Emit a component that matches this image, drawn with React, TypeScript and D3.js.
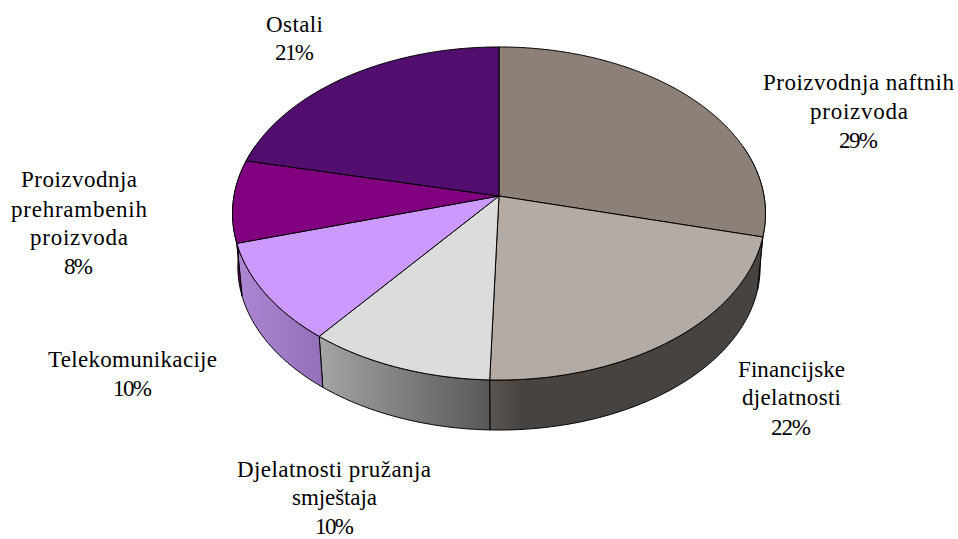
import React from "react";
import * as d3 from "d3";

const categories = ["Proizvodnja naftnih proizvoda", "Financijske djelatnosti", "Djelatnosti pružanja smještaja", "Telekomunikacije", "Proizvodnja prehrambenih proizvoda", "Ostali"];
const shares = [28.9, 21.6, 10.2, 9.8, 8.0, 21.5];
const percentLabels = ["29%", "22%", "10%", "10%", "8%", "21%"];
const labelLines = [
  ["Proizvodnja naftnih", "proizvoda"],
  ["Financijske", "djelatnosti"],
  ["Djelatnosti pružanja", "smještaja"],
  ["Telekomunikacije"],
  ["Proizvodnja", "prehrambenih", "proizvoda"],
  ["Ostali"],
];
const topColors = ["#8C8079", "#B4ABA5", "#DCDCDC", "#CC99FF", "#800080", "#520E6E"];
const wallStops = [
  ["#5c534d", "#5c534d"],
  ["#5a5550", "#474341"],
  ["#A3A3A3", "#585858"],
  ["#AB85D2", "#9470B8"],
  ["#5c005c", "#5c005c"],
  ["#3a0a4f", "#3a0a4f"],
];
// layout of each text line: [left x, width, baseline y]
const labelBoxes: [number, number, number][][] = [
  [[763, 191, 90], [810, 98, 119], [839, 39, 148]],
  [[738, 107, 377], [742, 99, 405], [771, 40, 435]],
  [[237, 194, 477], [292, 85, 505], [315, 39, 534]],
  [[48, 169, 367], [113, 39, 396]],
  [[21, 116, 187], [11, 136, 217], [30, 98, 245], [64, 29, 274]],
  [[266, 57, 32], [275, 39, 60]],
];

const W = 958, H = 539;
const APEX_X = 499, APEX_Y = 196, R = 265, B = 164.7, K = 0.105;
const BOTTOM_Y = 249.7, BOTTOM_S = 0.98;

function project(theta: number, bottom: boolean): [number, number] {
  const u = Math.sin(theta), v = -Math.cos(theta);
  const w = 1 - K * v;
  const s = bottom ? BOTTOM_S : 1;
  return [APEX_X + (s * R * u) / w, (bottom ? BOTTOM_Y : APEX_Y) + (s * B * v) / w];
}

const arcs = d3.pie<number>().sort(null)(shares);
const line = d3.line();

function samples(a: number, b: number): number[] {
  const n = Math.max(2, Math.ceil(Math.abs(b - a) / 0.01));
  return d3.range(n + 1).map((i) => a + ((b - a) * i) / n);
}

const WALL_MIN = Math.PI * 0.4, WALL_MAX = Math.PI * 1.6;

export default function App() {
  return (
    <svg width={W} height={H} style={{ position: "absolute", left: 0, top: 0, background: "#fff" }}>
      <defs>
        {arcs.map((d, i) => {
          const x0 = project(Math.max(d.startAngle, WALL_MIN), true)[0];
          const x1 = project(Math.min(d.endAngle, WALL_MAX), true)[0];
          return (
            <linearGradient key={i} id={`wall${i}`} gradientUnits="userSpaceOnUse" x1={Math.min(x0, x1)} x2={Math.max(x0, x1)} y1={0} y2={0}>
              <stop offset="0" stopColor={wallStops[i][0]} />
              <stop offset={i === 1 ? "0.12" : "1"} stopColor={wallStops[i][1]} />
            </linearGradient>
          );
        })}
      </defs>
      {arcs.map((d, i) => {
        const a = Math.max(d.startAngle, WALL_MIN), b = Math.min(d.endAngle, WALL_MAX);
        if (b <= a) return null;
        const t = samples(a, b);
        const pts = [...t.map((x) => project(x, false)), ...t.slice().reverse().map((x) => project(x, true))];
        return <path key={i} d={line(pts) + "Z"} fill={`url(#wall${i})`} stroke="#000" strokeWidth={1} strokeLinejoin="round" />;
      })}
      {arcs.map((d, i) => {
        const pts: [number, number][] = [[APEX_X, APEX_Y], ...samples(d.startAngle, d.endAngle).map((x) => project(x, false))];
        return <path key={i} d={line(pts) + "Z"} fill={topColors[i]} stroke="#000" strokeWidth={1} strokeLinejoin="round" />;
      })}
      {categories.map((c, i) => {
        const lines = [...labelLines[i], percentLabels[i]];
        return (
          <g key={c} fontFamily="'Liberation Serif', serif" fontSize={23} fill="#000">
            {lines.map((l, j) => (
              <text key={j} x={labelBoxes[i][j][0]} y={labelBoxes[i][j][2]} textLength={labelBoxes[i][j][1]} lengthAdjust="spacing">{l}</text>
            ))}
          </g>
        );
      })}
    </svg>
  );
}
